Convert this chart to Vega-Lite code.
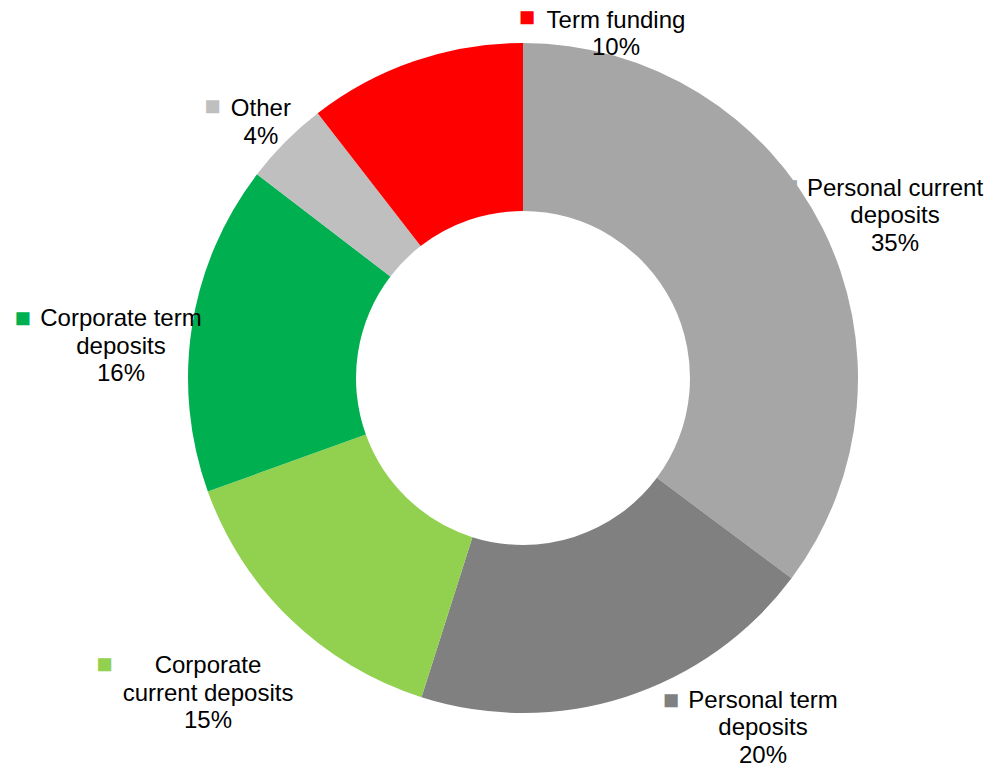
{
  "$schema": "https://vega.github.io/schema/vega-lite/v6.json",
  "width": 1046,
  "height": 756,
  "padding": {"left": 0, "top": 0, "right": 0, "bottom": 10},
  "autosize": {"type": "none"},
  "background": "white",
  "view": {"stroke": null},
  "data": {"values": [
    {"idx": 1, "cat": "Personal current deposits", "value": 35.2, "label": "Personal current\ndeposits\n35%"},
    {"idx": 2, "cat": "Personal term deposits", "value": 19.7, "label": "Personal term\ndeposits\n20%"},
    {"idx": 3, "cat": "Corporate current deposits", "value": 14.6, "label": "Corporate\ncurrent deposits\n15%"},
    {"idx": 4, "cat": "Corporate term deposits", "value": 15.9, "label": "Corporate term\ndeposits\n16%"},
    {"idx": 5, "cat": "Other", "value": 4.1, "label": "Other\n4%"},
    {"idx": 6, "cat": "Term funding", "value": 10.5, "label": "Term funding\n10%"}
  ]},
  "encoding": {
    "theta": {"field": "value", "type": "quantitative", "stack": true},
    "order": {"field": "idx", "type": "quantitative"},
    "color": {"field": "cat", "type": "nominal", "legend": null,
      "scale": {"domain": ["Personal current deposits", "Personal term deposits", "Corporate current deposits", "Corporate term deposits", "Other", "Term funding"],
                "range": ["#A6A6A6", "#808080", "#92D050", "#00B050", "#BFBFBF", "#FF0000"]}}
  },
  "layer": [
    {"mark": {"type": "arc", "outerRadius": 335, "innerRadius": 167}},
    {"mark": {"type": "text", "radius": 335, "dx": 201.5, "dy": -33.1, "font": "Liberation Sans", "fontSize": 24, "lineBreak": "\n", "lineHeight": 27.5, "align": "center", "baseline": "alphabetic"},
     "encoding": {"color": {"value": "#000000"}, "text": {"condition": {"test": "datum.cat === 'Term funding'", "field": "label"}, "value": ""}}},
    {"mark": {"type": "text", "radius": 335, "dx": -24.5, "dy": -25.8, "font": "Liberation Sans", "fontSize": 24, "lineBreak": "\n", "lineHeight": 27.5, "align": "center", "baseline": "alphabetic"},
     "encoding": {"color": {"value": "#000000"}, "text": {"condition": {"test": "datum.cat === 'Other'", "field": "label"}, "value": ""}}},
    {"mark": {"type": "text", "radius": 335, "dx": -71, "dy": -0.6, "font": "Liberation Sans", "fontSize": 24, "lineBreak": "\n", "lineHeight": 27.5, "align": "center", "baseline": "alphabetic"},
     "encoding": {"color": {"value": "#000000"}, "text": {"condition": {"test": "datum.cat === 'Corporate term deposits'", "field": "label"}, "value": ""}}},
    {"mark": {"type": "text", "radius": 335, "dx": -82.6, "dy": 53.7, "font": "Liberation Sans", "fontSize": 24, "lineBreak": "\n", "lineHeight": 27.5, "align": "center", "baseline": "alphabetic"},
     "encoding": {"color": {"value": "#000000"}, "text": {"condition": {"test": "datum.cat === 'Corporate current deposits'", "field": "label"}, "value": ""}}},
    {"mark": {"type": "text", "radius": 335, "dx": 137.5, "dy": 10.6, "font": "Liberation Sans", "fontSize": 24, "lineBreak": "\n", "lineHeight": 27.5, "align": "center", "baseline": "alphabetic"},
     "encoding": {"color": {"value": "#000000"}, "text": {"condition": {"test": "datum.cat === 'Personal term deposits'", "field": "label"}, "value": ""}}},
    {"mark": {"type": "text", "radius": 335, "dx": 72.6, "dy": -31.8, "font": "Liberation Sans", "fontSize": 24, "lineBreak": "\n", "lineHeight": 27.5, "align": "center", "baseline": "alphabetic"},
     "encoding": {"color": {"value": "#000000"}, "text": {"condition": {"test": "datum.cat === 'Personal current deposits'", "field": "label"}, "value": ""}}},
    {"mark": {"type": "text", "radius": 335, "dx": 112.5, "dy": -34.8, "font": "Liberation Sans", "fontSize": 27, "align": "center", "baseline": "alphabetic"},
     "encoding": {"text": {"condition": {"test": "datum.cat === 'Term funding'", "value": "■"}, "value": ""}}},
    {"mark": {"type": "text", "radius": 335, "dx": -73, "dy": -27, "font": "Liberation Sans", "fontSize": 27, "align": "center", "baseline": "alphabetic"},
     "encoding": {"text": {"condition": {"test": "datum.cat === 'Other'", "value": "■"}, "value": ""}}},
    {"mark": {"type": "text", "radius": 335, "dx": -169.3, "dy": 0.2, "font": "Liberation Sans", "fontSize": 27, "align": "center", "baseline": "alphabetic"},
     "encoding": {"text": {"condition": {"test": "datum.cat === 'Corporate term deposits'", "value": "■"}, "value": ""}}},
    {"mark": {"type": "text", "radius": 335, "dx": -186.1, "dy": 53.5, "font": "Liberation Sans", "fontSize": 27, "align": "center", "baseline": "alphabetic"},
     "encoding": {"text": {"condition": {"test": "datum.cat === 'Corporate current deposits'", "value": "■"}, "value": ""}}},
    {"mark": {"type": "text", "radius": 335, "dx": 45.5, "dy": 12.4, "font": "Liberation Sans", "fontSize": 27, "align": "center", "baseline": "alphabetic"},
     "encoding": {"text": {"condition": {"test": "datum.cat === 'Personal term deposits'", "value": "■"}, "value": ""}}},
    {"mark": {"type": "text", "radius": 335, "dx": -32.4, "dy": -33, "font": "Liberation Sans", "fontSize": 27, "align": "center", "baseline": "alphabetic"},
     "encoding": {"text": {"condition": {"test": "datum.cat === 'Personal current deposits'", "value": "■"}, "value": ""}}}
  ]
}
